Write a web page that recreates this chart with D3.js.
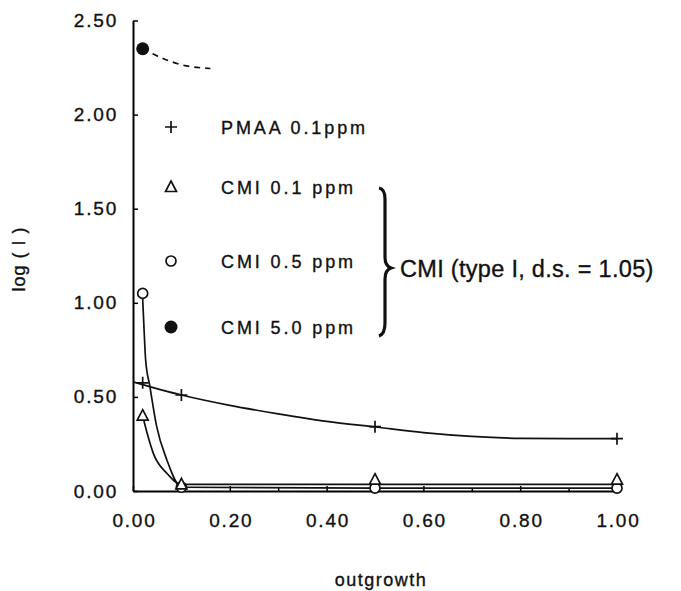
<!DOCTYPE html>
<html>
<head>
<meta charset="utf-8">
<script src="https://cdn.jsdelivr.net/npm/d3@7"></script>
<style>
  body { margin: 0; background: #fff; }
  text { font-family: "Liberation Sans", Arial, sans-serif; fill: #111; stroke: #111; stroke-width: 0.35px; }
</style>
</head>
<body>
<div id="chart"></div>
<script>
// measured points
const pmaaX = [0.02, 0.1, 0.5, 1.0];
const pmaaY = [0.575, 0.51, 0.342, 0.278];
const cmi01X = [0.02, 0.1, 0.5, 1.0];
const cmi01Y = [0.40, 0.035, 0.06, 0.06];
const cmi05X = [0.02, 0.1, 0.5, 1.0];
const cmi05Y = [1.05, 0.02, 0.015, 0.015];
const cmi50X = [0.02];
const cmi50Y = [2.35];

// fitted curves
const pmaaFitX = [0, 0.1, 0.2, 0.3, 0.4, 0.5, 0.6, 0.7, 0.8, 0.9, 1.0];
const pmaaFitY = [0.58, 0.51, 0.455, 0.41, 0.37, 0.34, 0.31, 0.29, 0.28, 0.278, 0.278];
const cmi01FitX = [0.02, 0.03, 0.042, 0.07, 0.1, 0.5, 1.0];
const cmi01FitY = [0.40, 0.30, 0.20, 0.094, 0.035, 0.035, 0.035];
const cmi05FitX = [0.02, 0.023, 0.026, 0.035, 0.049, 0.07, 0.1, 0.5, 1.0];
const cmi05FitY = [1.02, 0.85, 0.70, 0.554, 0.342, 0.165, 0.02, 0.015, 0.015];
const cmi50FitX = [0.02, 0.06, 0.1, 0.16];
const cmi50FitY = [2.35, 2.30, 2.265, 2.245];

const yTicks = [0, 0.5, 1.0, 1.5, 2.0, 2.5];
const xTicks = [0, 0.2, 0.4, 0.6, 0.8, 1.0];
const xMinorTicks = [0.1, 0.3, 0.5, 0.7, 0.9];

const legendLabels = ["PMAA 0.1ppm", "CMI 0.1 ppm", "CMI 0.5 ppm", "CMI 5.0 ppm"];
const legendMarks = ["plus", "triangle", "circle", "dot"];
const groupLabel = "CMI (type I, d.s. = 1.05)";

const width = 681, height = 591;

const svg = d3.select("#chart")
  .append("svg")
  .attr("width", width)
  .attr("height", height);

const x = d3.scaleLinear().domain([0, 1]).range([133, 617]);
const y = d3.scaleLinear().domain([0, 2.5]).range([491, 20.5]);

// y axis
svg.append("g")
  .attr("transform", `translate(${x(0)},0)`)
  .call(d3.axisLeft(y)
    .tickValues(yTicks)
    .tickSize(-5)
    .tickSizeOuter(0)
    .tickPadding(15)
    .tickFormat(d3.format(".2f")))
  .call(g => g.select(".domain").attr("stroke-width", 2))
  .call(g => g.selectAll(".tick line").attr("stroke-width", 1.5))
  .selectAll("text")
  .style("font-size", "19px")
  .style("letter-spacing", "1.8px")
  .attr("font-family", null);

// x axis, minor then major
svg.append("g")
  .attr("transform", `translate(0,${y(0)})`)
  .call(d3.axisBottom(x)
    .tickValues(xMinorTicks)
    .tickSize(-3)
    .tickSizeOuter(0)
    .tickFormat(""))
  .call(g => g.select(".domain").remove())
  .call(g => g.selectAll(".tick line").attr("stroke-width", 1.5));

svg.append("g")
  .attr("transform", `translate(0,${y(0)})`)
  .call(d3.axisBottom(x)
    .tickValues(xTicks)
    .tickSize(-5)
    .tickSizeOuter(0)
    .tickPadding(23)
    .tickFormat(d3.format(".2f")))
  .call(g => g.select(".domain").attr("stroke-width", 2))
  .call(g => g.selectAll(".tick line").attr("stroke-width", 1.5))
  .selectAll("text")
  .style("font-size", "19px")
  .style("letter-spacing", "1.8px")
  .attr("dx", "1px")
  .attr("font-family", null);

// axis titles
svg.append("text")
  .attr("transform", "translate(25,259) rotate(-90)")
  .attr("text-anchor", "middle")
  .style("font-size", "18px")
  .style("letter-spacing", "1px")
  .text("log ( I )");

svg.append("text")
  .attr("x", 381)
  .attr("y", 586)
  .attr("text-anchor", "middle")
  .style("font-size", "18px")
  .style("letter-spacing", "1.5px")
  .text("outgrowth");

// fit curves
const line = d3.line()
  .x(d => x(d[0]))
  .y(d => y(d[1]))
  .curve(d3.curveMonotoneX);

const fits = [
  [pmaaFitX, pmaaFitY, null],
  [cmi01FitX, cmi01FitY, null],
  [cmi05FitX, cmi05FitY, null],
  [cmi50FitX, cmi50FitY, "6,5"]
];

fits.forEach(([xs, ys, dash]) => {
  svg.append("path")
    .datum(d3.zip(xs, ys))
    .attr("d", line)
    .attr("fill", "none")
    .attr("stroke", "#111")
    .attr("stroke-width", 1.7)
    .attr("stroke-dasharray", dash);
});

// markers
function drawMark(g, type, cx, cy) {
  if (type === "plus") {
    g.append("path")
      .attr("d", `M${cx - 6},${cy}H${cx + 6}M${cx},${cy - 6}V${cy + 6}`)
      .attr("stroke", "#111")
      .attr("stroke-width", 1.7);
  } else if (type === "triangle") {
    g.append("path")
      .attr("d", `M${cx},${cy - 6}L${cx + 5.5},${cy + 4.5}L${cx - 5.5},${cy + 4.5}Z`)
      .attr("fill", "#fff")
      .attr("stroke", "#111")
      .attr("stroke-width", 1.7);
  } else if (type === "circle") {
    g.append("circle")
      .attr("cx", cx).attr("cy", cy).attr("r", 5)
      .attr("fill", "#fff")
      .attr("stroke", "#111")
      .attr("stroke-width", 1.7);
  } else {
    g.append("circle")
      .attr("cx", cx).attr("cy", cy).attr("r", 6.5)
      .attr("fill", "#111");
  }
}

const series = [
  [cmi05X, cmi05Y, "circle"],
  [cmi01X, cmi01Y, "triangle"],
  [pmaaX, pmaaY, "plus"],
  [cmi50X, cmi50Y, "dot"]
];

const marks = svg.append("g");
series.forEach(([xs, ys, type]) => {
  xs.forEach((v, i) => drawMark(marks, type, x(v), y(ys[i])));
});

// legend
const legendY = [127, 187, 261, 327];
const legend = svg.append("g");
legendLabels.forEach((lab, i) => {
  drawMark(legend, legendMarks[i], 171, legendY[i]);
  legend.append("text")
    .attr("x", 221)
    .attr("y", legendY[i] + 7)
    .style("font-size", "18px")
    .style("letter-spacing", "2.9px")
    .text(lab);
});

// brace grouping the CMI entries
svg.append("path")
  .attr("d", "M379,188 Q385,189 385,199 L385,257 Q385,266 391,268 Q385,270 385,279 L385,323 Q385,334 379,336")
  .attr("fill", "none")
  .attr("stroke", "#111")
  .attr("stroke-width", 3.2);

svg.append("text")
  .attr("x", 400)
  .attr("y", 277)
  .style("font-size", "23.5px")
  .style("letter-spacing", "0.3px")
  .text(groupLabel);
</script>
</body>
</html>
